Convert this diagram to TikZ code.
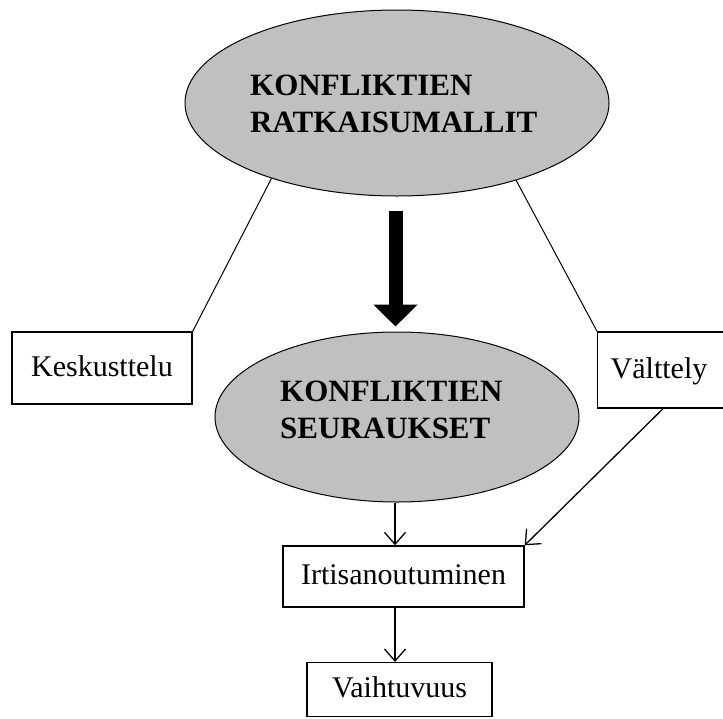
\documentclass[tikz,border=0pt]{standalone}
\usepackage{fontspec}
\setmainfont{Liberation Serif}
\usetikzlibrary{arrows.meta,shapes.geometric}
\definecolor{ovalgray}{HTML}{C0C0C0}
\begin{document}
\begin{tikzpicture}[x=1pt,y=-1pt,
  oval/.style={ellipse, draw=black, line width=1pt, fill=ovalgray, inner sep=0pt},
  ovaltext/.style={font=\bfseries\fontsize{31}{37}\selectfont, align=left, anchor=west, inner sep=0pt},
  box/.style={draw=black, line width=1.4pt, fill=white, font=\fontsize{30}{36}\selectfont,
    inner xsep=0pt, text height=21pt, text depth=5pt},
  link/.style={draw=black, line width=1pt},
  flow/.style={draw=black, line width=1.3pt, -{Straight Barb[length=12pt,width=21pt]}},
  bigflow/.style={draw=black, line width=14pt, -{Triangle[length=22pt,width=43pt]}}
]
\useasboundingbox (0,0) rectangle (723,718);
\clip (0,0) rectangle (723,718);

% the two ovals
\node[oval, minimum width=424pt, minimum height=186pt] (ratk) at (397,103) {};
\node[ovaltext] (ratkt) at (250,104) {KONFLIKTIEN\\RATKAISUMALLIT};
\node[oval, minimum width=364pt, minimum height=170pt] (seur) at (397,417) {};
\node[ovaltext] (seurt) at (280,409.5) {KONFLIKTIEN\\SEURAUKSET};

% boxes
\node[box, minimum width=180pt, minimum height=72pt] (kesk) at (102,368) {Keskusttelu};
\node[box, anchor=west, minimum height=76pt, text width=127pt, inner xsep=13pt, align=left]
  (valt) at (597,370) {Välttely};
\node[box, minimum width=241pt, minimum height=61pt] (irt) at (403.5,576.5) {Irtisanoutuminen};
\node[box, anchor=north, minimum width=185pt, inner ysep=14pt]
  (vaih) at (399.5,662) {Vaihtuvuus};

% connectors
\draw[link] (ratk.211) -- (kesk.north east);
\draw[link] (ratk.327.5) -- (valt.north west);
\draw[bigflow, shorten <=14pt, shorten >=5pt] ([xshift=-1.5pt]ratk.south) -- ([xshift=-1.5pt]seur.north);

\coordinate (c1) at ([xshift=-2pt]seur.south);
\draw[flow] (c1) -- (c1 |- irt.north);
\draw[flow] ([xshift=66pt]valt.south west) -- (irt.north east);
\coordinate (c2) at ([xshift=-8.5pt]irt.south);
\draw[flow] (c2) -- (c2 |- vaih.north);
\end{tikzpicture}
\end{document}
